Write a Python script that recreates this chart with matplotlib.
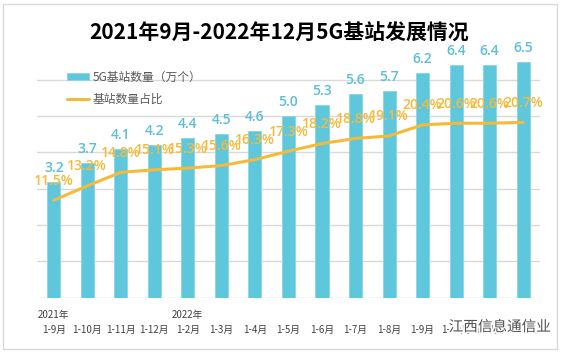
import matplotlib.pyplot as plt
import matplotlib.patheffects as pe
from matplotlib.patches import Rectangle
import numpy as np

plt.rcParams['font.family'] = ['Noto Sans CJK SC', 'DejaVu Sans']

categories = ['1-9月', '1-10月', '1-11月', '1-12月', '1-2月', '1-3月', '1-4月', '1-5月',
              '1-6月', '1-7月', '1-8月', '1-9月', '1-10月', '1-11月', '1-12月']
year_labels = {0: '2021年', 4: '2022年'}
stations = [3.2, 3.7, 4.1, 4.2, 4.4, 4.5, 4.6, 5.0, 5.3, 5.6, 5.7, 6.2, 6.4, 6.4, 6.5]
share = [11.5, 13.2, 14.8, 15.1, 15.3, 15.6, 16.3, 17.3, 18.2, 18.8, 19.1, 20.4, 20.6, 20.6, 20.7]

BLUE = '#5EC7DB'
ORANGE = '#F5BA3A'
GRID = '#D9D9D9'

fig = plt.figure(figsize=(5.63, 3.53), dpi=100)
fig.patches.append(Rectangle((0.005, 0.012), 0.985, 0.978, transform=fig.transFigure,
                             fill=False, edgecolor=GRID, linewidth=1))

ax = fig.add_axes([0.0657, 0.1567, 0.8933, 0.7198])
x = np.arange(len(categories))

bars = ax.bar(x, stations, width=0.39, color=BLUE, edgecolor='#8AD6E5', linewidth=0.6, zorder=2)
ax.set_xlim(-0.5, len(categories) - 0.5)
ax.set_ylim(0, 7)
for yv in range(0, 7):
    ax.axhline(yv, color=GRID, linewidth=1, zorder=1)
for spine in ax.spines.values():
    spine.set_visible(False)
ax.set_yticks([])
ax.set_xticks([])

for xi, v in zip(x, stations):
    ax.annotate(f'{v:.1f}', (xi, v), xytext=(0, 5), textcoords='offset points',
                ha='center', va='bottom', color='#5BBFD6', fontsize=10, fontweight='semibold',
                family=['Open Sans'])

# category labels and years
for xi, lab in zip(x, categories):
    ax.annotate(lab, (xi, 0), xytext=(0, -23.5), textcoords='offset points',
                ha='center', va='center', fontsize=7, color='#404040', annotation_clip=False)
for xi, lab in year_labels.items():
    ax.annotate(lab, (xi - 0.48, 0), xytext=(0, -12.5), textcoords='offset points',
                ha='left', va='center', fontsize=7, color='#404040', annotation_clip=False)

ax2 = ax.twinx()
ax2.set_ylim(0, 30)
for spine in ax2.spines.values():
    spine.set_visible(False)
ax2.set_yticks([])
line, = ax2.plot(x, share, color=ORANGE, linewidth=2.2, solid_capstyle='round', zorder=3)
for xi, v in zip(x, share):
    ax2.annotate(f'{v:.1f}%', (xi, v), xytext=(0, 14), textcoords='offset points',
                 ha='center', va='center', color=ORANGE, fontsize=10, fontweight='semibold',
                 family=['Open Sans'])

# legend
fig.legend([bars, line], ['5G基站数量（万个）', '基站数量占比'], loc='upper left',
           bbox_to_anchor=(0.1, 0.83), frameon=False, fontsize=8.5, labelcolor='#595959',
           handlelength=1.9, handleheight=0.5, labelspacing=0.75, handletextpad=0.3)

fig.text(0.495, 0.905, '2021年9月-2022年12月5G基站发展情况', ha='center', va='center',
         fontsize=15, fontweight='bold', color='black')

fig.text(0.797, 0.073, '江西信息通信业', ha='left', va='center', fontsize=10.5, color='#505050',
         path_effects=[pe.withStroke(linewidth=2.5, foreground='white')])

fig.savefig('out.png', dpi=100)
